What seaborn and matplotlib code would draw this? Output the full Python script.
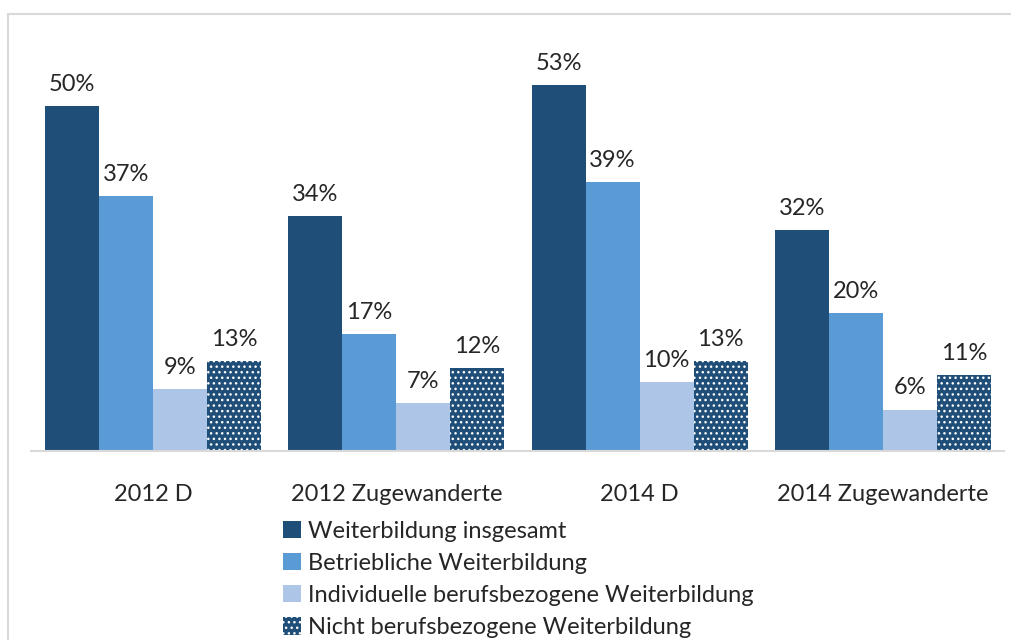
import pandas as pd
import numpy as np
import matplotlib.pyplot as plt
import seaborn as sns
from matplotlib.patches import Patch, Rectangle

categories = ['2012 D', '2012 Zugewanderte', '2014 D', '2014 Zugewanderte']
series = ['Weiterbildung insgesamt', 'Betriebliche Weiterbildung',
          'Individuelle berufsbezogene Weiterbildung', 'Nicht berufsbezogene Weiterbildung']
insgesamt = [50, 34, 53, 32]
betrieblich = [37, 17, 39, 20]
individuell = [9, 7, 10, 6]
nicht_beruf = [13, 12, 13, 11]

colors = ['#1F4E79', '#5B9BD5', '#ADC5E7', '#1F4E79']

rows = []
for s, vals in zip(series, [insgesamt, betrieblich, individuell, nicht_beruf]):
    for c, v in zip(categories, vals):
        rows.append({'Gruppe': c, 'Art': s, 'Wert': v})
data = pd.DataFrame(rows)

sns.set_theme(style='white')
plt.rcParams['font.family'] = ['Lato', 'DejaVu Sans']
plt.rcParams['hatch.linewidth'] = 1.0
fs = 17

fig = plt.figure(figsize=(10.12, 6.4), dpi=100)
ax = fig.add_axes([31.5 / 1012, 1 - 451 / 640, 973 / 1012, 414 / 640])

sns.barplot(data=data, x='Gruppe', y='Wert', hue='Art', palette=colors,
            width=216 / 243, saturation=1, ax=ax, legend=False, linewidth=0)

for i, cont in enumerate(ax.containers):
    if i == 3:
        for p in cont:
            p.set_hatch('...')
            p.set_edgecolor('white')
            p.set_linewidth(0)
    ax.bar_label(cont, fmt='%d%%', padding=8, fontsize=fs)

ax.set_ylim(0, 60)
ax.set_xlim(-0.5, 3.5)
ax.set_xlabel('')
ax.set_ylabel('')
ax.set_yticks([])
ax.tick_params(axis='x', length=0, labelsize=fs, pad=24)
for s in ['top', 'right', 'left']:
    ax.spines[s].set_visible(False)
ax.spines['bottom'].set_color('#d9d9d9')
ax.spines['bottom'].set_linewidth(1.5)

handles = []
for i, s in enumerate(series):
    if i == 3:
        handles.append(Patch(facecolor=colors[i], edgecolor='white', hatch='...', linewidth=0, label=s))
    else:
        handles.append(Patch(facecolor=colors[i], linewidth=0, label=s))
fig.legend(handles=handles, loc='upper left', bbox_to_anchor=(271 / 1012, 1 - 509 / 640),
           frameon=False, fontsize=fs, handlelength=0.75, handleheight=0.75,
           handletextpad=0.3, labelspacing=0.47, borderpad=0)

fig.patches.append(Rectangle((8 / 1012, -0.2), 1.2, 1.2 - 14 / 640, transform=fig.transFigure,
                             fill=False, edgecolor='#d9d9d9', linewidth=1.5))

fig.savefig('out.png', dpi=100)
